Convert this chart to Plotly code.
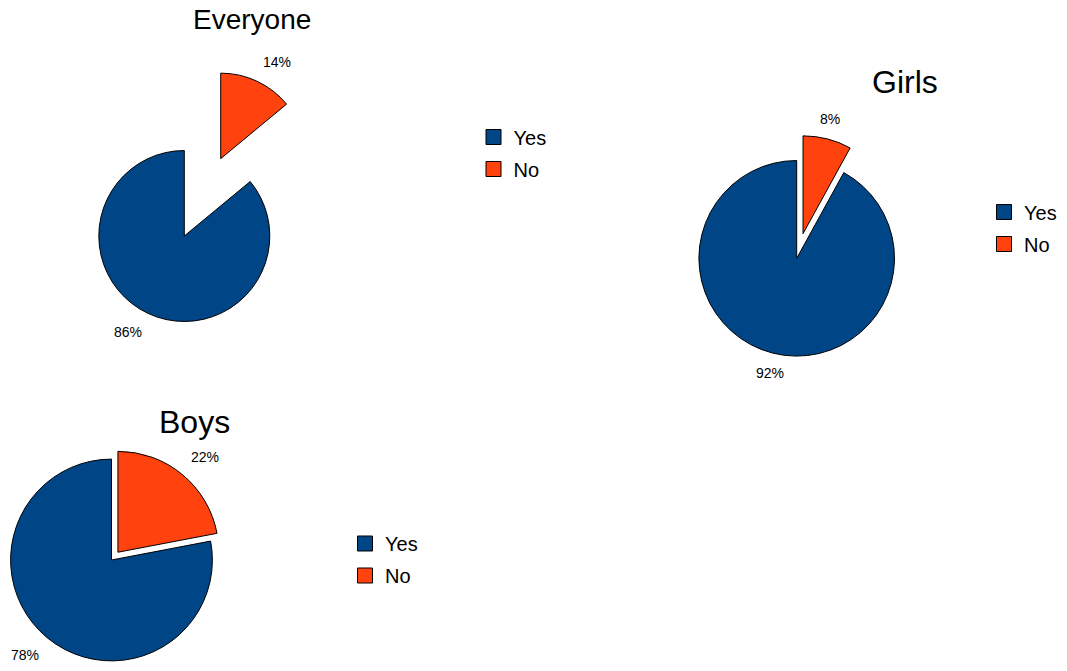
import math
import plotly.graph_objects as go

W, H = 1067, 671

# Survey answers, in percent
labels = ["Yes", "No"]
groups = ["Everyone", "Girls", "Boys"]
yes_values = [86, 92, 78]
no_values = [14, 8, 22]

slice_colors = ["#004586", "#ff420e"]

# Pie placement in pixels: centre, radius and how far the "No" slice is pulled out
pie_geometry = {
    "Everyone": dict(cx=184.3, cy=236.0, r=85.5, pull=1.0),
    "Girls": dict(cx=796.7, cy=258.3, r=97.8, pull=0.26),
    "Boys": dict(cx=111.5, cy=560.0, r=100.9, pull=0.10),
}
title_style = {
    "Everyone": dict(x=251.7, y=20.0, size=28),
    "Girls": dict(x=905.0, y=81.7, size=32),
    "Boys": dict(x=194.7, y=421.7, size=32),
}
legend_pos = {
    "Everyone": dict(left=473.5, top=117.5),
    "Girls": dict(left=984.0, top=192.5),
    "Boys": dict(left=345.0, top=524.0),
}
legend_ids = ["legend", "legend2", "legend3"]

FONT = "Liberation Sans, Arial, sans-serif"


def clamp01(v):
    return min(1.0, max(0.0, v))


fig = go.Figure()
annotations = []
layout_legends = {}

for name, yes, no, leg in zip(groups, yes_values, no_values, legend_ids):
    g = pie_geometry[name]
    total = yes + no
    outer = g["r"] * (1 + g["pull"])
    dom_x = [clamp01((g["cx"] - outer) / W), clamp01((g["cx"] + outer) / W)]
    dom_y = [clamp01(1 - (g["cy"] + outer) / H), clamp01(1 - (g["cy"] - outer) / H)]

    no_share = no / total
    fig.add_trace(go.Pie(
        labels=labels,
        values=[yes, no],
        sort=False,
        direction="clockwise",
        rotation=360 * no_share,
        pull=[0, g["pull"]],
        marker=dict(colors=slice_colors, line=dict(color="black", width=1)),
        textinfo="none",
        hoverinfo="label+percent",
        domain=dict(x=dom_x, y=dom_y),
        showlegend=False,
        name=name,
    ))

    # one legend per pie: a square swatch for each answer
    for lab, col in zip(labels, slice_colors):
        fig.add_trace(go.Scatter(
            x=[None], y=[None], mode="markers", name=lab,
            marker=dict(symbol="square", size=15, color=col,
                        line=dict(color="black", width=1)),
            legend=leg, legendgroup=f"{name}-{lab}", showlegend=True,
            hoverinfo="skip",
        ))

    # percentage labels just outside each slice
    end_no = 360 * no_share
    slices = [
        (yes, (end_no + 360) / 2, 0.0),
        (no, end_no / 2, g["pull"]),
    ]
    for value, mid_deg, pull in slices:
        a = math.radians(mid_deg)
        ux, uy = math.sin(a), -math.cos(a)
        dist = pull * g["r"] + g["r"] + 10
        px = g["cx"] + ux * dist
        py = g["cy"] + uy * dist
        if abs(ux) < 0.3:
            xanchor = "center"
        elif ux > 0:
            xanchor = "left"
        else:
            xanchor = "right"
        yanchor = "bottom" if uy < 0 else "top"
        annotations.append(dict(
            x=px / W, y=1 - py / H, xref="paper", yref="paper",
            text=f"{round(100 * value / total)}%", showarrow=False,
            xanchor=xanchor, yanchor=yanchor,
            font=dict(size=14, color="black", family=FONT),
        ))

    t = title_style[name]
    annotations.append(dict(
        x=t["x"] / W, y=1 - t["y"] / H, xref="paper", yref="paper",
        text=name, showarrow=False, xanchor="center", yanchor="middle",
        font=dict(size=t["size"], color="black", family=FONT),
    ))

    lp = legend_pos[name]
    layout_legends[leg] = dict(
        x=lp["left"] / W, y=1 - lp["top"] / H,
        xanchor="left", yanchor="top",
        bgcolor="rgba(0,0,0,0)",
        traceorder="grouped", tracegroupgap=3,
        font=dict(size=20, color="black", family=FONT),
    )

fig.update_layout(
    width=W, height=H,
    margin=dict(l=0, r=0, t=0, b=0, autoexpand=False),
    paper_bgcolor="white",
    plot_bgcolor="white",
    font=dict(family=FONT, color="black"),
    annotations=annotations,
    xaxis=dict(visible=False),
    yaxis=dict(visible=False),
    **layout_legends,
)

fig.write_html("out.html", config={"displayModeBar": False})
